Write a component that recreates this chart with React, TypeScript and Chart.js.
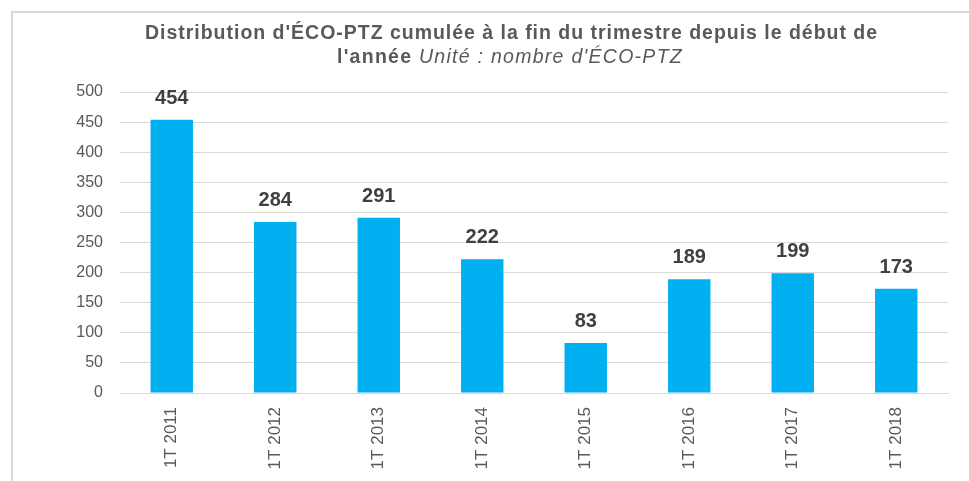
import React, { useEffect, useRef } from "react";
import { Chart, registerables } from "chart.js";

Chart.register(...registerables);

const categories = ["1T 2011", "1T 2012", "1T 2013", "1T 2014", "1T 2015", "1T 2016", "1T 2017", "1T 2018"];
const values = [454, 284, 291, 222, 83, 189, 199, 173];
const yTicks = [0, 50, 100, 150, 200, 250, 300, 350, 400, 450, 500];
const titleLine1 = "Distribution d'ÉCO-PTZ cumulée à la fin du trimestre depuis le début de";
const titleLine2Bold = "l'année ";
const titleLine2Italic = "Unité : nombre d'ÉCO-PTZ";

const FONT = "'Liberation Sans', Arial, sans-serif";
const TITLE_SIZE = 19.5;

const titlePlugin = {
  id: "customTitle",
  afterDraw(chart: any) {
    const ctx = chart.ctx as CanvasRenderingContext2D;
    const c = ctx as any;
    ctx.save();
    ctx.fillStyle = "#595959";
    ctx.textBaseline = "middle";
    ctx.textAlign = "left";
    ctx.font = `bold ${TITLE_SIZE}px ${FONT}`;
    c.letterSpacing = "0px";
    const w1 = ctx.measureText(titleLine1).width;
    c.letterSpacing = (733 - w1) / titleLine1.length + "px";
    ctx.fillText(titleLine1, 145, 34);
    c.letterSpacing = "0px";
    ctx.font = `bold ${TITLE_SIZE}px ${FONT}`;
    const wb0 = ctx.measureText(titleLine2Bold).width;
    ctx.font = `italic ${TITLE_SIZE}px ${FONT}`;
    const wi0 = ctx.measureText(titleLine2Italic).width;
    const n = titleLine2Bold.length + titleLine2Italic.length;
    const ls = (346 - wb0 - wi0) / n;
    const start = 337;
    c.letterSpacing = ls + "px";
    ctx.font = `bold ${TITLE_SIZE}px ${FONT}`;
    const wb = ctx.measureText(titleLine2Bold).width;
    ctx.fillText(titleLine2Bold, start, 58);
    ctx.font = `italic ${TITLE_SIZE}px ${FONT}`;
    ctx.fillText(titleLine2Italic, start + wb, 58);
    ctx.restore();
  },
};

const labelPlugin = {
  id: "valueLabels",
  afterDatasetsDraw(chart: any) {
    const ctx = chart.ctx as CanvasRenderingContext2D;
    const meta = chart.getDatasetMeta(0);
    ctx.save();
    ctx.font = `bold 20px ${FONT}`;
    ctx.fillStyle = "#404040";
    ctx.textAlign = "center";
    ctx.textBaseline = "alphabetic";
    meta.data.forEach((bar: any, i: number) => {
      ctx.fillText(String(values[i]), bar.x, bar.y - 16);
    });
    ctx.restore();
  },
};

export default function App() {
  const ref = useRef<HTMLCanvasElement | null>(null);
  useEffect(() => {
    if (!ref.current) return;
    const chart = new Chart(ref.current, {
      type: "bar",
      data: {
        labels: categories,
        datasets: [
          {
            data: values,
            backgroundColor: "#00B0F0",
            borderWidth: 0,
            categoryPercentage: 1,
            barPercentage: 0.41,
          },
        ],
      },
      options: {
        animation: false,
        responsive: false,
        devicePixelRatio: 1,
        layout: { padding: { left: 60, right: 21, top: 92, bottom: 0 } },
        plugins: { legend: { display: false }, tooltip: { enabled: false }, title: { display: false } },
        scales: {
          x: {
            grid: { display: false, drawTicks: false },
            border: { display: true, color: "#d9d9d9", width: 1 },
            ticks: {
              color: "#595959",
              font: { family: FONT, size: 17 },
              minRotation: 90,
              maxRotation: 90,
              padding: 14,
              autoSkip: false,
            },
            afterFit(scale: any) {
              scale.height = 88;
            },
          },
          y: {
            min: 0,
            max: 500,
            afterBuildTicks(scale: any) {
              scale.ticks = yTicks.map((v) => ({ value: v }));
            },
            grid: { color: "#d9d9d9", lineWidth: 1, drawTicks: false },
            border: { display: false },
            ticks: {
              color: "#595959",
              font: { family: FONT, size: 16 },
              padding: 17,
            },
            afterFit(scale: any) {
              scale.width = 60;
            },
          },
        },
      },
      plugins: [titlePlugin, labelPlugin],
    });
    return () => chart.destroy();
  }, []);
  return (
    <div style={{ position: "fixed", left: 0, top: 0, width: 969, height: 481, overflow: "hidden", background: "#fff" }}>
      <div
        style={{
          position: "absolute",
          left: 11,
          top: 11,
          width: 1000,
          height: 600,
          border: "2px solid #d9d9d9",
          boxSizing: "border-box",
        }}
      />
      <canvas ref={ref} width={969} height={481} style={{ position: "absolute", left: 0, top: 0 }} />
    </div>
  );
}
